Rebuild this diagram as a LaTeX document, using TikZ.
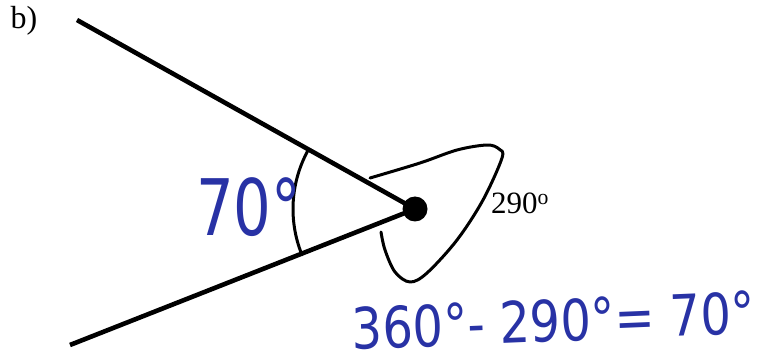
\documentclass[tikz,border=0pt]{standalone}
\usepackage{fontspec}
\setmainfont{Liberation Serif}
\newfontfamily\handfont{DejaVu Sans}
\definecolor{pen}{RGB}{40,50,165}
\begin{document}
\begin{tikzpicture}[x=1pt,y=1pt,
  ray/.style={line width=4.6pt},
  thin/.style={line width=3pt, line join=round, line cap=round},
  hand/.style={text=pen, font=\handfont, inner sep=0pt},
  print/.style={text=black, inner sep=0pt}]
\useasboundingbox (0,0) rectangle (764,362);
% vertex and ray ends
\coordinate (V) at (415,153);
\coordinate (A) at (77,342);
\coordinate (B) at (70,17);
\node[circle, fill=black, minimum size=25pt, inner sep=0pt] (v) at (V) {};
\draw[ray] (A) -- (V);
\draw[ray] (B) -- (V);
% marked angle arc
\draw[thin] ([shift={(151:122)}]V) arc[start angle=151, end angle=202, radius=122];
% reflex angle loop
\draw[thin] plot[smooth, tension=0.55] coordinates {(370,184) (420,199) (457,212) (487,217) (499,213) (502,204) (483,162) (457,122) (427,89) (410,80) (395,90) (385,112) (381,130)};
% labels
\node[print, font=\fontsize{32}{32}\selectfont] (lb) at (24,341) {b)};
\node[print, font=\fontsize{31}{31}\selectfont, anchor=west] (l290) at (491,159) {290\textsuperscript{o}};
\node[hand, font=\handfont\fontsize{78}{78}\selectfont, xscale=0.76, anchor=west] (l70) at (196,155) {70°};
\node[hand, font=\handfont\fontsize{57}{57}\selectfont, xscale=0.84, rotate=2, anchor=west] (eq) at (352,33) {360°- 290°= 70°};
\end{tikzpicture}
\end{document}
